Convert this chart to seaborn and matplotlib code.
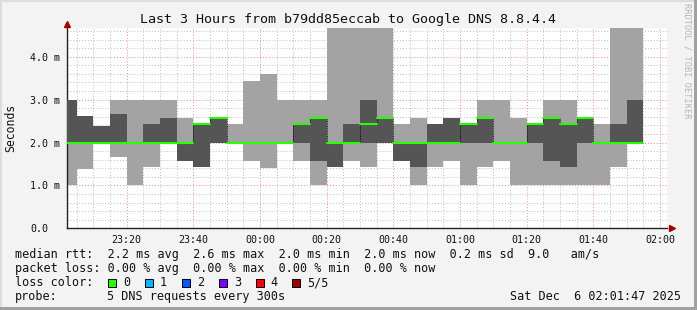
import numpy as np
import pandas as pd
import matplotlib
matplotlib.use("Agg")
import matplotlib.pyplot as plt
import seaborn as sns
from matplotlib.patches import Rectangle

# ---------------- data ----------------
bar_end_times = ["23:05", "23:10", "23:15", "23:20", "23:25", "23:30", "23:35",
                 "23:40", "23:45", "23:50", "23:55", "00:00", "00:05", "00:10",
                 "00:15", "00:20", "00:25", "00:30", "00:35", "00:40", "00:45",
                 "00:50", "00:55", "01:00", "01:05", "01:10", "01:15", "01:20",
                 "01:25", "01:30", "01:35", "01:40", "01:45", "01:50", "01:55"]
# sorted ping values per 5-minute step (ms)
ping_min = [1.00, 1.38, 2.00, 1.67, 1.00, 1.43, 2.00, 1.57, 1.43, 2.00, 2.00, 1.57,
            1.40, 2.00, 1.57, 1.00, 1.43, 1.57, 1.43, 2.00, 1.57, 1.00, 1.43, 1.57,
            1.00, 1.43, 1.57, 1.00, 1.00, 1.00, 1.00, 1.00, 1.00, 1.43, 2.00]
ping_lo = [2.00, 2.00, 2.00, 2.00, 2.00, 2.00, 2.00, 1.57, 1.43, 2.00, 2.00, 2.00,
           2.00, 2.00, 2.00, 1.57, 1.43, 2.00, 2.00, 2.00, 1.57, 1.43, 2.00, 2.00,
           2.00, 2.00, 2.00, 2.00, 2.00, 1.57, 1.43, 2.00, 2.00, 2.00, 2.00]
ping_median = [2.00, 2.00, 2.00, 2.00, 2.00, 2.00, 2.00, 2.00, 2.43, 2.58, 2.00, 2.00,
               2.00, 2.00, 2.43, 2.58, 2.00, 2.00, 2.43, 2.58, 2.00, 2.00, 2.00, 2.00,
               2.43, 2.58, 2.00, 2.00, 2.43, 2.58, 2.43, 2.57, 2.00, 2.00, 2.00]
ping_hi = [3.00, 2.62, 2.39, 2.67, 2.00, 2.43, 2.57, 2.00, 2.43, 2.58, 2.00, 2.00,
           2.00, 2.00, 2.43, 2.58, 2.00, 2.43, 3.00, 2.58, 2.00, 2.00, 2.43, 2.57,
           2.43, 2.58, 2.00, 2.00, 2.43, 2.58, 2.43, 2.57, 2.00, 2.43, 3.00]
ping_max = [3.00, 2.62, 2.39, 3.00, 3.00, 3.00, 3.00, 2.57, 2.43, 2.58, 2.43, 3.43,
            3.60, 3.00, 3.00, 3.00, 5.20, 5.20, 5.20, 5.20, 2.43, 2.57, 2.43, 2.57,
            2.43, 3.00, 3.00, 2.57, 2.43, 3.00, 3.00, 2.57, 2.43, 5.20, 5.20]

x_tick_labels = ["23:20", "23:40", "00:00", "00:20", "00:40", "01:00", "01:20", "01:40", "02:00"]
y_tick_labels = ["0.0", "1.0 m", "2.0 m", "3.0 m", "4.0 m"]
loss_labels = ["0", "1", "2", "3", "4", "5/5"]
loss_colors = ["#26ff00", "#00b8ff", "#0059ff", "#7e00ff", "#ff0000", "#a10000"]

title = "Last 3 Hours from b79dd85eccab to Google DNS 8.8.4.4"
legend_line1 = "median rtt:  2.2 ms avg  2.6 ms max  2.0 ms min  2.0 ms now  0.2 ms sd  9.0   am/s"
legend_line2 = "packet loss: 0.00 % avg  0.00 % max  0.00 % min  0.00 % now"
probe_label = "probe:"
probe_text = "5 DNS requests every 300s"
stamp_text = "Sat Dec  6 02:01:47 2025"

# ---------------- helpers ----------------
def to_min(s):
    """minutes after 23:00 (wrapping past midnight)"""
    h, m = map(int, s.split(":"))
    return (h * 60 + m - 23 * 60) % 1440

ends = np.array([to_min(t) for t in bar_end_times], dtype=float)
starts = ends - 5.0
tick_pos = np.array([to_min(t) for t in x_tick_labels], dtype=float)

p1 = np.array(ping_min); p2 = np.array(ping_lo); p3 = np.array(ping_median)
p4 = np.array(ping_hi); p5 = np.array(ping_max)

# ---------------- figure ----------------
sns.set_theme(style="white")
plt.rcParams["font.family"] = ["DejaVu Sans Mono", "DejaVu Sans"]

W, H = 697, 310
fig = plt.figure(figsize=(W / 100, H / 100), dpi=100, facecolor="#f3f3f3")
ax = fig.add_axes([66.7 / W, (H - 228.3) / H, 600 / W, 200.3 / H])
ax.set_facecolor("white")

ax.bar(starts, p5 - p1, width=5, bottom=p1, align="edge", color="#a3a3a3",
       linewidth=0, zorder=2)
ax.bar(starts, p4 - p2, width=5, bottom=p2, align="edge", color="#555555",
       linewidth=0, zorder=3)

# median steps (horizontal pieces) via seaborn
rows = []
for i in range(len(ends)):
    rows.append({"t": starts[i], "ms": p3[i], "bar": i})
    rows.append({"t": ends[i], "ms": p3[i], "bar": i})
df = pd.DataFrame(rows)
sns.lineplot(data=df, x="t", y="ms", units="bar", estimator=None, color=loss_colors[0],
             linewidth=1.5, ax=ax, zorder=5, legend=False)
for i in range(1, len(ends)):
    if p3[i] != p3[i - 1]:
        ax.vlines(starts[i], min(p3[i], p3[i - 1]), max(p3[i], p3[i - 1]),
                  colors="#000000", linestyles=(0, (1, 1)), linewidth=0.6, zorder=4)

ax.set_xlim(2, 182)
ax.set_ylim(0, 4.67)
ax.set_xlabel("")
ax.set_ylabel("")

ax.set_xticks(tick_pos)
ax.set_xticklabels(x_tick_labels)
ax.set_xticks(np.arange(5, 182, 5), minor=True)
ax.set_yticks(np.arange(0, 5, 1.0))
ax.set_yticklabels(y_tick_labels)
ax.set_yticks(np.arange(0, 4.67, 0.2), minor=True)

ax.set_axisbelow(True)
ax.grid(which="minor", color="#bdbdbd", linestyle=(0, (1, 2)), linewidth=0.7)
ax.grid(which="major", color="#ee8c8c", linestyle=(0, (1, 2)), linewidth=0.7)

for s in ["top", "right"]:
    ax.spines[s].set_visible(False)
for s in ["left", "bottom"]:
    ax.spines[s].set_color("#222222")
    ax.spines[s].set_linewidth(1.0)

ax.tick_params(axis="x", which="major", length=2, width=0.7, color="#f09090",
               labelsize=7.2, pad=2.5, labelcolor="#111111", direction="out")
ax.tick_params(axis="x", which="minor", length=0)
ax.tick_params(axis="y", which="major", length=2.5, width=0.7, color="#333333",
               labelsize=7.2, pad=23.9, labelcolor="#111111", direction="out")
ax.tick_params(axis="y", which="minor", length=0)
for lab in ax.get_yticklabels():
    lab.set_horizontalalignment("left")

# axis arrows
ax.plot([0], [1.0 + 4 / 200.3], marker="^", markersize=4.5, color="#a00000",
        transform=ax.transAxes, clip_on=False, zorder=6)
ax.plot([1.0 + 5 / 600], [0], marker=">", markersize=4.5, color="#a00000",
        transform=ax.transAxes, clip_on=False, zorder=6)

# ---------------- texts ----------------
def px(x, y):
    return x / W, 1 - y / H

fig.text(*px(348, 19), title, ha="center", va="center", fontsize=9.6, color="#111111")
fig.text(*px(11, 127.5), "Seconds", rotation=90, ha="center", va="center",
         fontsize=8.3, color="#111111")
fig.text(*px(687, 61), "RRDTOOL / TOBI OETIKER", rotation=270, ha="center",
         va="center", fontsize=6.2, color="#b5b5b5")

fs = 8.5
fig.text(*px(15, 254.5), legend_line1, ha="left", va="center", fontsize=fs, color="#111111")
fig.text(*px(15, 268.5), legend_line2, ha="left", va="center", fontsize=fs, color="#111111")
fig.text(*px(15, 282.5), "loss color:", ha="left", va="center", fontsize=fs, color="#111111")
for k, (lab, col) in enumerate(zip(loss_labels, loss_colors)):
    bx = 108.3 + 36.8 * k
    fig.add_artist(Rectangle(px(bx, 287), 8 / W, 8 / H, transform=fig.transFigure,
                             facecolor=col, edgecolor="#000000", linewidth=0.7))
    fig.text(*px(bx + 15, 282.5), lab, ha="left", va="center", fontsize=fs, color="#111111")
fig.text(*px(15, 296.5), probe_label, ha="left", va="center", fontsize=fs, color="#111111")
fig.text(*px(107, 296.5), probe_text, ha="left", va="center", fontsize=fs, color="#111111")
fig.text(*px(681, 296.5), stamp_text, ha="right", va="center", fontsize=fs, color="#111111")

# frame shading
fig.add_artist(Rectangle((0, 0), 1, 3 / H, transform=fig.transFigure,
                         facecolor="#a0a0a0", edgecolor="none"))
fig.add_artist(Rectangle((1 - 3 / W, 0), 3 / W, 1, transform=fig.transFigure,
                         facecolor="#a0a0a0", edgecolor="none"))
fig.add_artist(Rectangle((0, 1 - 2 / H), 1 - 3 / W, 2 / H, transform=fig.transFigure,
                         facecolor="#dcdcdc", edgecolor="none"))
fig.add_artist(Rectangle((0, 3 / H), 2 / W, 1, transform=fig.transFigure,
                         facecolor="#dcdcdc", edgecolor="none"))

fig.savefig("out.png", dpi=100, facecolor=fig.get_facecolor())
